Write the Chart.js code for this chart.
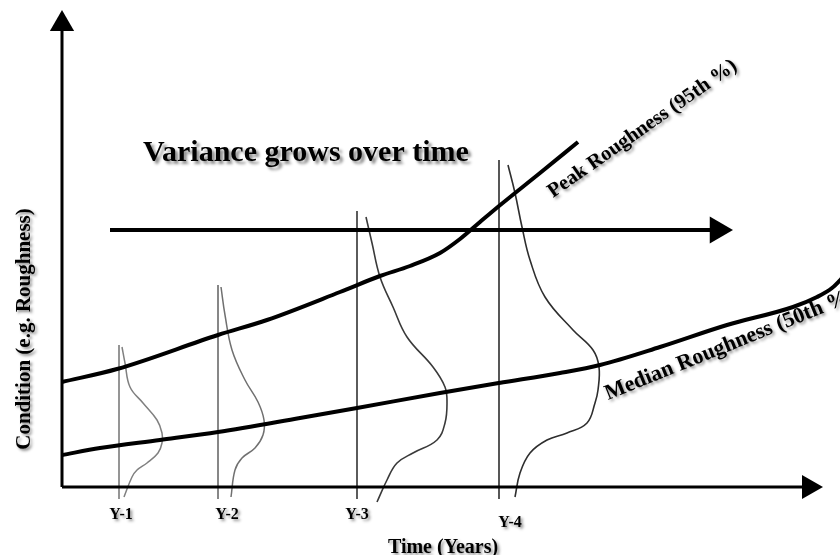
<!DOCTYPE html>
<html>
<head>
<meta charset="utf-8">
<script src="https://cdn.jsdelivr.net/npm/chart.js@4.4.1/dist/chart.umd.min.js"></script>
<style>
    html, body { margin: 0; padding: 0; background: #fff; }
    #wrap { position: relative; width: 840px; height: 555px; }
</style>
</head>
<body>
<div id="wrap"><canvas id="chart"></canvas></div>
<script>
// --- Data (time in years-ish units, condition in roughness units) ---
const yearLabels = ['Y-1', 'Y-2', 'Y-3', 'Y-4'];
const yearTimes = [0.57, 1.56, 2.95, 4.37];
const yearTops = [14.2, 20.2, 27.6, 32.7];
const yearBottom = -1.2;

// Peak Roughness (95th %)
const peakT = [0, 0.55, 1.56, 2.05, 2.78, 3.18, 3.48, 3.78, 3.98, 4.18, 4.37, 4.78, 5.16];
const peakV = [10.5, 11.8, 15.2, 16.7, 19.5, 21.1, 22.1, 23.4, 24.8, 26.5, 28.1, 31.4, 34.5];

// Median Roughness (50th %)
const medianT = [0, 0.38, 0.98, 1.56, 2.38, 2.95, 3.78, 4.37, 4.98, 5.38, 5.98, 6.65, 7.31, 7.55, 7.70, 7.83];
const medianV = [3.2, 3.9, 4.7, 5.5, 6.9, 7.9, 9.4, 10.4, 11.4, 12.2, 14.0, 16.2, 18.0, 19.0, 19.9, 21.2];

// Distribution curves, one per year (time, condition)
const dist1T = [0.60, 0.63, 0.68, 0.81, 0.95, 1.00, 1.00, 0.96, 0.85, 0.75, 0.70, 0.62];
const dist1V = [14.0, 12.4, 10.0, 8.4, 6.7, 5.4, 4.4, 3.4, 2.4, 1.7, 1.0, -1.0];
const dist2T = [1.59, 1.63, 1.70, 1.83, 1.96, 2.02, 2.01, 1.93, 1.80, 1.73, 1.69];
const dist2V = [20.0, 17.2, 13.7, 10.7, 8.5, 6.7, 5.2, 3.9, 2.9, 1.7, -1.0];
const dist3T = [3.04, 3.10, 3.18, 3.31, 3.45, 3.71, 3.83, 3.85, 3.83, 3.75, 3.51, 3.35, 3.25, 3.15];
const dist3V = [27.0, 24.4, 21.0, 18.0, 15.0, 12.0, 10.0, 8.4, 6.4, 4.7, 3.4, 2.4, 0.7, -1.5];
const dist4T = [4.46, 4.53, 4.60, 4.68, 4.83, 5.11, 5.31, 5.37, 5.36, 5.33, 5.25, 5.05, 4.85, 4.68, 4.58, 4.53];
const dist4V = [32.2, 29.4, 26.0, 22.7, 19.0, 15.7, 13.7, 12.0, 9.7, 8.4, 6.4, 5.4, 4.7, 3.4, 1.4, -1.0];

// Variance arrow (start/end time, level)
const arrowT = [0.48, 6.555];
const arrowV = 25.7;

// Axis extents
const axisTopV = 46.3;
const axisRightT = 7.47;

// --- Layout (scale window and text placement) ---
const view = { xMin: -0.62, xMax: 7.78, yMin: -6.8, yMax: 48.7 };
const SERIF = '"Liberation Serif", "Times New Roman", serif';

const pts = (ts, vs) => ts.map((t, i) => ({ x: t, y: vs[i] }));

const lineSet = (data, width, color, extra) => Object.assign({
    data: data,
    showLine: true,
    borderColor: color,
    backgroundColor: color,
    borderWidth: width,
    pointRadius: 0,
    pointHoverRadius: 0,
    fill: false
}, extra || {});

const arrowHead = (size, rot) => ({
    pointStyle: 'triangle',
    pointRadius: (c) => (c.dataIndex === 1 ? size : 0),
    pointRotation: rot,
    pointBorderWidth: 0,
    pointBackgroundColor: '#000'
});

// --- Text annotations drawn via scales ---
const textPlugin = {
    id: 'diagramText',
    afterDatasetsDraw(chart) {
        const { ctx, scales: { x, y } } = chart;
        const put = (txt, t, v, opts) => {
            ctx.save();
            ctx.translate(x.getPixelForValue(t), y.getPixelForValue(v));
            ctx.rotate((opts.rot || 0) * Math.PI / 180);
            ctx.font = 'bold ' + opts.size + 'px ' + SERIF;
            ctx.textAlign = opts.align || 'center';
            ctx.textBaseline = opts.base || 'middle';
            ctx.shadowColor = 'rgba(0,0,0,0.45)';
            ctx.shadowOffsetX = opts.sh || 2;
            ctx.shadowOffsetY = opts.sh || 2;
            ctx.shadowBlur = 3;
            ctx.fillStyle = '#000';
            ctx.fillText(txt, 0, 0);
            ctx.restore();
        };

        put('Variance grows over time', 2.44, 33.4, { size: 30, sh: 3 });
        put('Peak Roughness (95th %)', 4.91, 28.9, { size: 20.5, rot: -35, align: 'left', base: 'alphabetic' });
        put('Median Roughness (50th %)', 5.46, 8.7, { size: 22, rot: -22, align: 'left', base: 'alphabetic' });
        put('Condition (e.g. Roughness)', -0.37, 15.8, { size: 21, rot: -90 });
        put('Time (Years)', 3.81, -6.1, { size: 20 });

        const labelOffsetT = [0.02, 0.09, 0.0, 0.11];
        const labelV = [-2.8, -2.8, -2.8, -3.6];
        yearLabels.forEach((lab, i) => {
            put(lab, yearTimes[i] + labelOffsetT[i], labelV[i], { size: 16 });
        });
    }
};

const initChart = () => {
    const ctx = document.getElementById('chart').getContext('2d');

    const datasets = [
        // axes with arrow heads
        lineSet([{ x: 0, y: 0 }, { x: 0, y: axisTopV }], 3, '#000', arrowHead(14, 0)),
        lineSet([{ x: 0, y: 0 }, { x: axisRightT, y: 0 }], 3, '#000', arrowHead(14, 90)),
        // "variance grows" arrow
        lineSet([{ x: arrowT[0], y: arrowV }, { x: arrowT[1], y: arrowV }], 4, '#000', arrowHead(15.5, 90)),
        // percentile curves
        lineSet(pts(peakT, peakV), 4, '#000', { cubicInterpolationMode: 'monotone' }),
        lineSet(pts(medianT, medianV), 4, '#000', { cubicInterpolationMode: 'monotone' }),
        // distributions
        lineSet(pts(dist1T, dist1V), 1.5, '#808080', { tension: 0.4 }),
        lineSet(pts(dist2T, dist2V), 1.5, '#707070', { tension: 0.4 }),
        lineSet(pts(dist3T, dist3V), 1.6, '#3a3a3a', { tension: 0.4 }),
        lineSet(pts(dist4T, dist4V), 1.6, '#2e2e2e', { tension: 0.4 })
    ];

    const stemColors = ['#8a8a8a', '#7a7a7a', '#4a4a4a', '#444'];
    yearTimes.forEach((t, i) => {
        datasets.push(lineSet([{ x: t, y: yearBottom }, { x: t, y: yearTops[i] }], 1.8, stemColors[i]));
    });

    new Chart(ctx, {
        type: 'scatter',
        data: { datasets: datasets },
        options: {
            responsive: true,
            maintainAspectRatio: false,
            animation: false,
            layout: { padding: 0, autoPadding: false },
            plugins: {
                legend: { display: false },
                tooltip: { enabled: false }
            },
            scales: {
                x: { type: 'linear', display: false, min: view.xMin, max: view.xMax },
                y: { type: 'linear', display: false, min: view.yMin, max: view.yMax }
            }
        },
        plugins: [textPlugin]
    });
};

window.onload = initChart;
</script>
</body>
</html>
